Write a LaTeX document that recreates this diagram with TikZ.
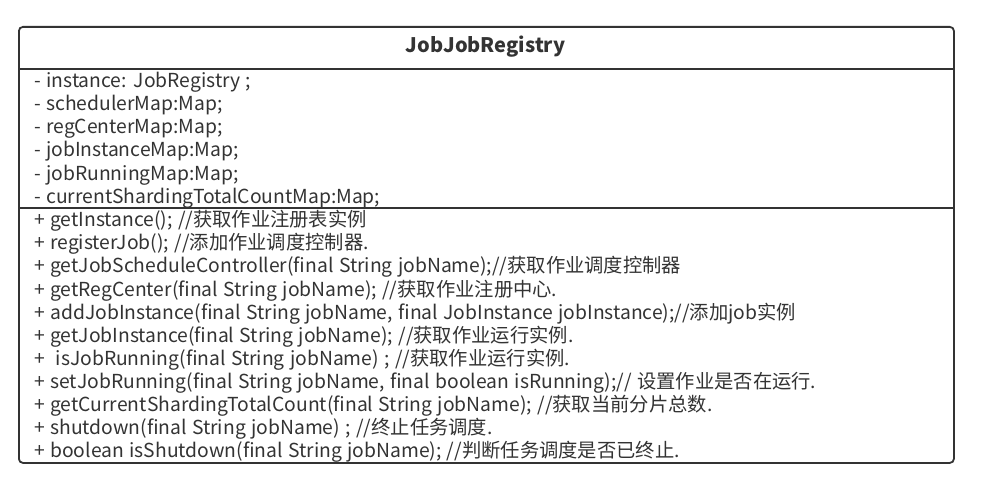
\documentclass[tikz,border=0pt]{standalone}
\usepackage{fontspec}
\setmainfont[WordSpace=1.25]{Noto Sans CJK SC}
\definecolor{ink}{HTML}{333333}
\begin{document}
\begin{tikzpicture}[x=1pt,y=-1pt,
  txt/.style={anchor=west,inner sep=0pt,text=ink,font=\fontsize{19.3}{21}\selectfont},
  ttl/.style={inner sep=0pt,text=ink,font=\fontsize{20}{22}\selectfont\bfseries},
  frame/.style={draw=ink,line width=1.8pt,rounded corners=4pt},
  divider/.style={draw=ink,line width=1.6pt}]
\useasboundingbox (0,0) rectangle (984,481);
\node[frame,minimum width=935,minimum height=436,anchor=north west,inner sep=0pt] (box) at (18,26) {};
\coordinate (d1l) at (18,69); \coordinate (d1r) at (953,69);
\coordinate (d2l) at (18,208); \coordinate (d2r) at (953,208);
\draw[divider] (d1l) -- (d1r);
\draw[divider] (d2l) -- (d2r);
\node[ttl] (title) at (485.5,47) {JobJobRegistry};
\node[txt] (a1) at (34,82) {- instance: JobRegistry ;};
\node[txt] (a2) at (34,105.2) {- schedulerMap:Map;};
\node[txt] (a3) at (34,128.4) {- regCenterMap:Map;};
\node[txt] (a4) at (34,151.6) {- jobInstanceMap:Map;};
\node[txt] (a5) at (34,174.8) {- jobRunningMap:Map;};
\node[txt] (a6) at (34,198) {- currentShardingTotalCountMap:Map;};
\node[txt] (m1) at (34,221) {+ getInstance(); //获取作业注册表实例};
\node[txt] (m2) at (34,244.1) {+ registerJob(); //添加作业调度控制器.};
\node[txt] (m3) at (34,267.2) {+ getJobScheduleController(final String jobName);//获取作业调度控制器};
\node[txt] (m4) at (34,290.3) {+ getRegCenter(final String jobName); //获取作业注册中心.};
\node[txt] (m5) at (34,313.4) {+ addJobInstance(final String jobName, final JobInstance jobInstance);//添加job实例};
\node[txt] (m6) at (34,336.5) {+ getJobInstance(final String jobName); //获取作业运行实例.};
\node[txt] (m7) at (34,359.6) {+ \ isJobRunning(final String jobName) ; //获取作业运行实例.};
\node[txt] (m8) at (34,382.7) {+ setJobRunning(final String jobName, final boolean isRunning);// 设置作业是否在运行.};
\node[txt] (m9) at (34,405.8) {+ getCurrentShardingTotalCount(final String jobName); //获取当前分片总数.};
\node[txt] (m10) at (34,428.9) {+ shutdown(final String jobName) ; //终止任务调度.};
\node[txt] (m11) at (34,452) {+ boolean isShutdown(final String jobName); //判断任务调度是否已终止.};
\end{tikzpicture}
\end{document}
